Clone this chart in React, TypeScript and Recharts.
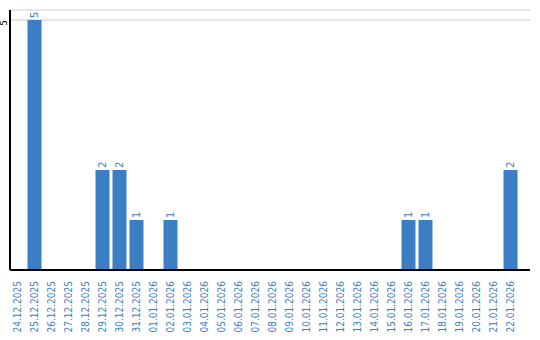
import { BarChart, Bar, XAxis, YAxis, CartesianGrid, LabelList } from 'recharts';

const dates = [
    '24.12.2025', '25.12.2025', '26.12.2025', '27.12.2025', '28.12.2025', '29.12.2025',
    '30.12.2025', '31.12.2025', '01.01.2026', '02.01.2026', '03.01.2026', '04.01.2026',
    '05.01.2026', '06.01.2026', '07.01.2026', '08.01.2026', '09.01.2026', '10.01.2026',
    '11.01.2026', '12.01.2026', '13.01.2026', '14.01.2026', '15.01.2026', '16.01.2026',
    '17.01.2026', '18.01.2026', '19.01.2026', '20.01.2026', '21.01.2026', '22.01.2026',
];
const counts = [0, 5, 0, 0, 0, 2, 2, 1, 0, 1, 0, 0, 0, 0, 0, 0, 0, 0, 0, 0, 0, 0, 0, 1, 1, 0, 0, 0, 0, 2];
const yTicks = [5];

const BLUE = '#3b7ec4';
const FONT = '"DejaVu Sans", sans-serif';

const data = dates.map((d, i) => ({ date: d, count: counts[i] }));

// rotated date labels under the axis
function DateTick({ x, payload }: any) {
    return (
        <text
            transform={`translate(${x + 3.6},281) rotate(-90)`}
            textAnchor="end"
            fontSize={10}
            fontFamily={FONT}
            style={{ fontStretch: 'condensed' }}
            fill={BLUE}
        >
            {payload.value}
        </text>
    );
}

function CountTick({ y, payload }: any) {
    return (
        <text
            transform={`translate(7,${y}) rotate(-90)`}
            textAnchor="end"
            fontSize={9}
            fontFamily={FONT}
            fill="#000"
        >
            {payload.value}
        </text>
    );
}

// value label above each bar, rotated
function ValueLabel({ x, y, width, value }: any) {
    if (!value) return null;
    return (
        <text
            transform={`translate(${x + width / 2 + 3.6},${y - 2}) rotate(-90)`}
            textAnchor="start"
            fontSize={10}
            fontFamily={FONT}
            fill={BLUE}
        >
            {value}
        </text>
    );
}

export default function App() {
    return (
        <div style={{ position: 'absolute', left: 0, top: 0, background: '#fff' }}>
            <BarChart width={540} height={340} data={data} margin={{ top: 10, right: 10, bottom: 0, left: 0 }}>
                <CartesianGrid vertical={false} stroke="#cccccc" />
                <XAxis
                    dataKey="date"
                    interval={0}
                    height={70}
                    tick={<DateTick />}
                    tickLine={false}
                    axisLine={{ stroke: '#000', strokeWidth: 2 }}
                    padding={{ left: -1.5, right: 11.5 }}
                />
                <YAxis
                    width={10}
                    domain={[0, 5.2]}
                    ticks={yTicks}
                    tick={<CountTick />}
                    tickLine={false}
                    axisLine={{ stroke: '#000', strokeWidth: 2 }}
                />
                <Bar dataKey="count" fill={BLUE} barSize={14} isAnimationActive={false}>
                    <LabelList dataKey="count" content={<ValueLabel />} />
                </Bar>
            </BarChart>
        </div>
    );
}
